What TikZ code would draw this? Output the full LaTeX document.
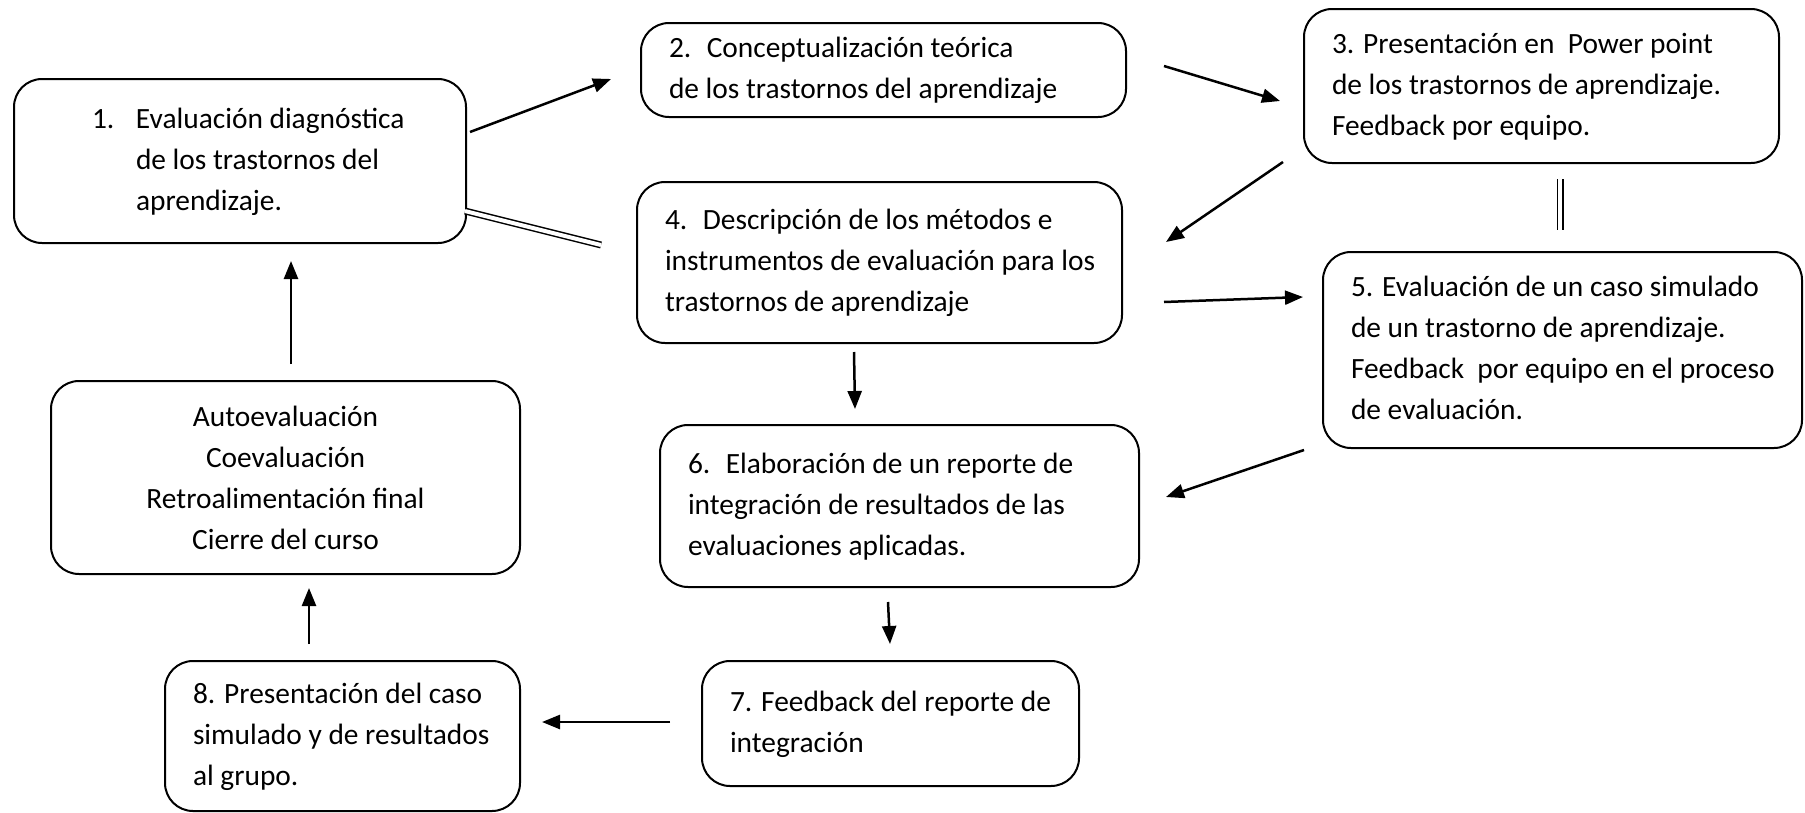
\documentclass[tikz,border=0pt]{standalone}
\usepackage{fontspec}
\setmainfont{Carlito}
\usetikzlibrary{arrows.meta}

\begin{document}
\begin{tikzpicture}
[x=1pt,y=-1pt,
  arrowDecorate/.style={-{Triangle[length=18pt,width=14pt]},line width=2.5pt},%
  doubleDecorate/.style={double,double distance=4pt,line width=1.5pt},%
  nodeDecorate/.style={draw,rounded corners=28pt,line width=2pt,inner xsep=28pt,inner ysep=0pt,%
    font=\fontsize{29.4}{41}\selectfont}]
\useasboundingbox (0,0) rectangle (1805,812);
%% boxes
\foreach \nodename/\x/\y/\w/\h/\txt in {
  1/240/161/396/164/{\hspace*{50pt}\makebox[44pt][l]{1.}Evaluación diagnóstica\\ \hspace*{94pt}de los trastornos del\\ \hspace*{94pt}aprendizaje.},
  2/883.5/70/429/94/{2.~ Conceptualización teórica\\ de los trastornos del aprendizaje},
  3/1541.5/86/419/154/{3. Presentación en~ Power point\\ de los trastornos de aprendizaje.\\ Feedback por equipo.},
  4/879.5/262.5/429/161/{4.~ Descripción de los métodos e\\ instrumentos de evaluación para los\\ trastornos de aprendizaje},
  5/1562.5/350/423/196/{5. Evaluación de un caso simulado\\ de un trastorno de aprendizaje.\\ Feedback~ por equipo en el proceso\\ de evaluación.},
  6/899.5/506/423/162/{6.~ Elaboración de un reporte de\\ integración de resultados de las\\ evaluaciones aplicadas.},
  7/890.5/723.5/321/125/{7. Feedback del reporte de\\ integración},
  8/342.5/736/299/150/{8. Presentación del caso\\ simulado y de resultados\\ al grupo.}}
{
  \node (\nodename) at (\x,\y) [nodeDecorate,minimum height=\h pt]
    {\makebox[\w pt][l]{\begin{tabular}{@{}l@{}}\txt\end{tabular}}};
}
\node (cierre) at (285.5,477.5) [nodeDecorate,minimum width=469pt,minimum height=193pt,align=center]
  {Autoevaluación\\Coevaluación\\Retroalimentación final\\Cierre del curso};
%% arrows
\path
\foreach \startnode/\sx/\sy/\endnode/\ex/\ey in {
  1.east/3/-29/2.west/-29/9,
  2.east/37/-4/3.west/-23/15,
  3.south west/-20/-2/4.east/43/-20.5,
  4.east/41/39.5/5.west/-19/-53,
  4.south/-25.5/8/6.north/-44.5/-15,
  5.south west/-18/1/6.east/26/-9,
  6.south/-11.5/14/7.north/-0.5/-16,
  7.west/-31/-1.5/8.east/21/-14,
  8.north/-33.5/-16/cierre.south/23.5/13,
  cierre.north/5.5/-16/1.south/51/17}
{
  ([shift={(\sx,\sy)}]\startnode) edge[arrowDecorate] ([shift={(\ex,\ey)}]\endnode)
}
\foreach \startnode/\sx/\sy/\endnode/\ex/\ey in {
  1.east/-2/50/4.west/-35/-17.5,
  3.south/18.5/15/5.north/-2.5/-21}
{
  ([shift={(\sx,\sy)}]\startnode) edge[doubleDecorate] ([shift={(\ex,\ey)}]\endnode)
};
\end{tikzpicture}
\end{document}
